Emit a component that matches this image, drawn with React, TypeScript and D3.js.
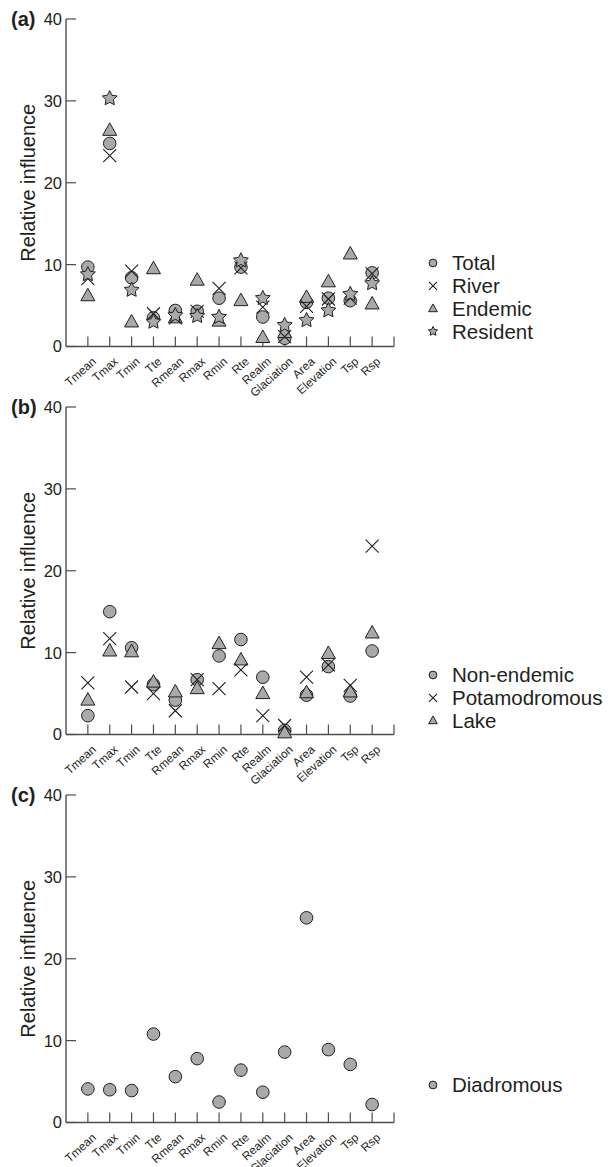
import React from 'react'
import * as d3 from 'd3'

const categories = ['Tmean', 'Tmax', 'Tmin', 'Tte', 'Rmean', 'Rmax', 'Rmin', 'Rte', 'Realm', 'Glaciation', 'Area', 'Elevation', 'Tsp', 'Rsp']
const yTicks = [0, 10, 20, 30, 40]

// panel (a)
const total = [9.7, 24.8, 8.4, 3.5, 4.4, 4.3, 5.9, 9.7, 3.6, 1.0, 5.4, 5.9, 5.6, 9.0]
const river = [8.3, 23.3, 9.2, 4.0, 3.5, 4.3, 7.1, 9.6, 4.8, 1.2, 4.9, 5.8, 5.9, 8.9]
const endemic = [6.2, 26.4, 3.0, 9.5, 3.5, 8.1, 3.1, 5.6, 1.1, 1.7, 6.0, 7.9, 11.3, 5.2]
const resident = [8.8, 30.3, 6.9, 3.0, 3.8, 3.7, 3.6, 10.5, 5.9, 2.6, 3.2, 4.4, 6.4, 7.7]

// panel (b)
const nonEndemic = [2.3, 15.0, 10.6, 6.1, 4.2, 6.7, 9.6, 11.6, 7.0, 0.5, 4.8, 8.3, 4.7, 10.2]
const potamodromous = [6.3, 11.7, 5.8, 5.0, 2.9, 6.7, 5.6, 7.9, 2.3, 1.1, 7.0, 8.5, 6.0, 23.0]
const lake = [4.2, 10.2, 10.1, 6.4, 5.2, 5.6, 11.1, 9.1, 5.0, 0.2, 5.1, 9.9, 5.2, 12.4]

// panel (c)
const diadromous = [4.1, 4.0, 3.9, 10.8, 5.6, 7.8, 2.5, 6.4, 3.7, 8.6, 25.0, 8.9, 7.1, 2.2]

const FILL = '#a7a9ac'
const INK = '#231f20'
const AXIS = '#4d4d4d'
const FONT = 'Liberation Sans, Arial, Helvetica, sans-serif'

type Shape = 'circle' | 'cross' | 'triangle' | 'star'

function starPath(R: number, r: number) {
  const pts: [number, number][] = []
  for (let i = 0; i < 10; i++) {
    const a = -Math.PI / 2 + (i * Math.PI) / 5
    const rad = i % 2 === 0 ? R : r
    pts.push([Math.cos(a) * rad, Math.sin(a) * rad])
  }
  return d3.line()(pts) + 'Z'
}

function Marker({ shape, x, y, s = 1 }: { shape: Shape; x: number; y: number; s?: number }) {
  const t = `translate(${x},${y})`
  if (shape === 'circle')
    return <circle cx={x} cy={y} r={6.3 * s} fill={FILL} stroke={INK} strokeWidth={1} />
  if (shape === 'cross') {
    const h = 6.5 * s
    return (
      <path transform={t} d={`M${-h},${-h}L${h},${h}M${-h},${h}L${h},${-h}`} stroke={INK} strokeWidth={1.1} fill="none" />
    )
  }
  if (shape === 'triangle') {
    const w = 7 * s
    return (
      <path transform={t} d={`M0,${-7.5 * s}L${w},${5 * s}L${-w},${5 * s}Z`} fill={FILL} stroke={INK} strokeWidth={1} />
    )
  }
  return <path transform={t} d={starPath(7.8 * s, 3.9 * s)} fill={FILL} stroke={INK} strokeWidth={1} />
}

interface Series { name: string; shape: Shape; values: number[] }

const panels: { label: string; top: number; legendY: number; series: Series[]; order: Shape[] }[] = [
  {
    label: '(a)', top: 19, legendY: 263,
    series: [
      { name: 'Total', shape: 'circle', values: total },
      { name: 'River', shape: 'cross', values: river },
      { name: 'Endemic', shape: 'triangle', values: endemic },
      { name: 'Resident', shape: 'star', values: resident },
    ],
    order: ['circle', 'triangle', 'cross', 'star'],
  },
  {
    label: '(b)', top: 407, legendY: 675,
    series: [
      { name: 'Non-endemic', shape: 'circle', values: nonEndemic },
      { name: 'Potamodromous', shape: 'cross', values: potamodromous },
      { name: 'Lake', shape: 'triangle', values: lake },
    ],
    order: ['circle', 'triangle', 'cross'],
  },
  {
    label: '(c)', top: 795, legendY: 1085,
    series: [{ name: 'Diadromous', shape: 'circle', values: diadromous }],
    order: ['circle'],
  },
]

const W = 608
const H = 1167
const panelH = 327.5
const x = d3.scaleLinear().domain([0, 15]).range([66, 394])

function Panel({ p }: { p: typeof panels[number] }) {
  const y = d3.scaleLinear().domain([0, 40]).range([p.top + panelH, p.top])
  const y0 = y(0)
  const drawOrder = p.order.map(sh => p.series.find(s => s.shape === sh)!)
  return (
    <g>
      <text x={11} y={p.top + 7} fontSize={20} fontWeight="bold" fill={INK}>{p.label}</text>
      {/* y axis */}
      <line x1={x(0)} x2={x(0)} y1={y(40)} y2={y0} stroke={AXIS} strokeWidth={1.4} />
      {yTicks.map(t => (
        <g key={t}>
          <line x1={x(0)} x2={x(0) + 10} y1={y(t)} y2={y(t)} stroke={AXIS} strokeWidth={1.2} />
          <text x={x(0) - 4} y={y(t)} dy="0.36em" textAnchor="end" fontSize={16.5} fill={INK}>{t}</text>
        </g>
      ))}
      <text
        transform={`translate(35,${(y(40) + y0) / 2}) rotate(-90)`}
        textAnchor="middle" fontSize={20} fill={INK}
      >Relative influence</text>
      {/* x axis */}
      <line x1={x(0)} x2={x(15)} y1={y0} y2={y0} stroke={AXIS} strokeWidth={1.4} />
      {d3.range(1, 16).map(i => (
        <line key={i} x1={x(i)} x2={x(i)} y1={y0} y2={y0 - 10} stroke={AXIS} strokeWidth={1.2} />
      ))}
      {categories.map((c, i) => (
        <text key={c} transform={`translate(${x(i + 1) + 9},${y0 + 16}) rotate(-42)`}
          textAnchor="end" fontSize={11.8} fill={INK}>{c}</text>
      ))}
      {/* points */}
      {drawOrder.map(s => (
        <g key={s.name}>
          {s.values.map((v, i) => <Marker key={i} shape={s.shape} x={x(i + 1)} y={y(v)} />)}
        </g>
      ))}
      {/* legend */}
      {p.series.map((s, i) => (
        <g key={s.name}>
          <Marker shape={s.shape} x={433} y={p.legendY + i * 22.8} s={0.62} />
          <text x={452} y={p.legendY + i * 22.8} dy="0.36em" fontSize={20.5} fill={INK}>{s.name}</text>
        </g>
      ))}
    </g>
  )
}

export default function App() {
  return (
    <svg width={W} height={H} viewBox={`0 0 ${W} ${H}`}
      style={{ position: 'absolute', left: 0, top: 0, background: '#fff', fontFamily: FONT }}>
      <rect width={W} height={H} fill="#fff" />
      {panels.map(p => <Panel key={p.label} p={p} />)}
    </svg>
  )
}
